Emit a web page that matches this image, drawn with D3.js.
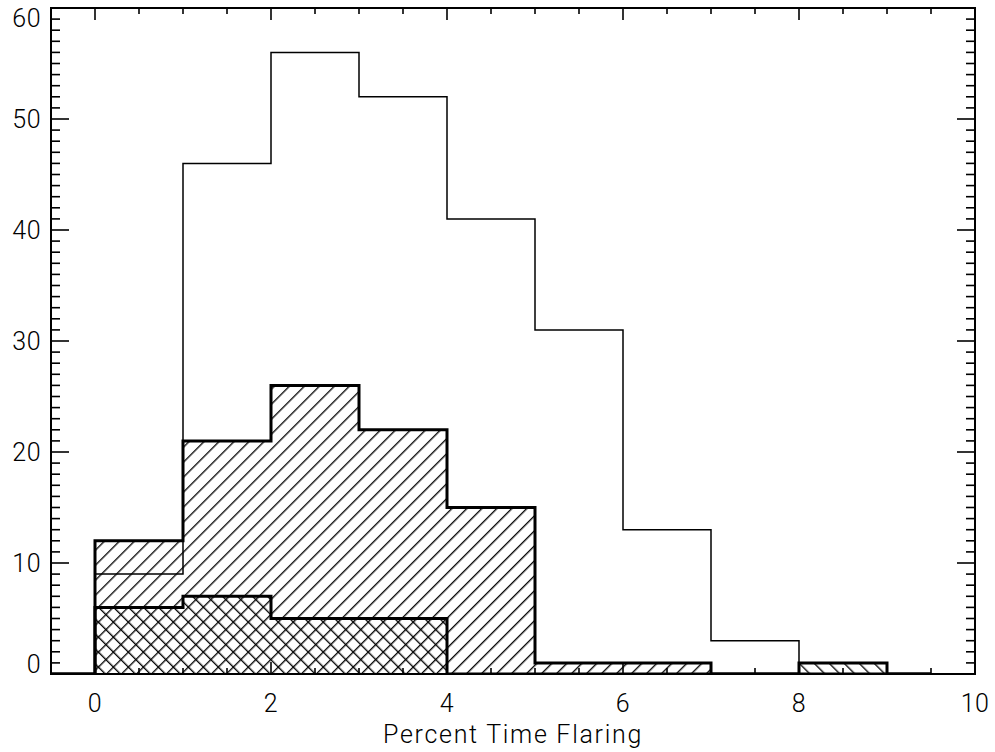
<!DOCTYPE html>
<html>
<head>
<meta charset="utf-8">
<script src="https://cdn.jsdelivr.net/npm/d3@7"></script>
<style>
  body { margin: 0; background: #fff; }
  svg { display: block; }
  text { font-family: Roboto, 'DejaVu Sans', sans-serif; font-weight: 300; fill: #000; }
</style>
</head>
<body>
<svg id="chart" width="995" height="752"></svg>
<script>
// bin centres (IDL psym=10 style histogram), one bin per percent
var binCenters = [-0.5, 0.5, 1.5, 2.5, 3.5, 4.5, 5.5, 6.5, 7.5, 8.5, 9.5];
var allCounts = [0, 9, 46, 56, 52, 41, 31, 13, 3, 0, 0];
var hatchCounts = [0, 12, 21, 26, 22, 15, 1, 1, 0, 0, 0];
var crossCounts = [0, 6, 7, 5, 5, 0, 0, 0, 0, 1, 0];
var xTicks = [0, 2, 4, 6, 8, 10];
var yTicks = [0, 10, 20, 30, 40, 50, 60];
var xTitle = 'Percent Time Flaring';

var svg = d3.select('#chart');
// note: "top" is taken by window.top, so use a box object
var box = { left: 51, right: 975, top: 8, bottom: 674 };

var x = d3.scaleLinear().domain([-0.5, 10]).range([box.left, box.right]);
var y = d3.scaleLinear().domain([0, 60]).range([box.bottom, box.top]);

var defs = svg.append('defs');
defs.append('clipPath').attr('id', 'plotClip')
  .append('rect')
  .attr('x', box.left).attr('y', box.top)
  .attr('width', box.right - box.left).attr('height', box.bottom - box.top);

function hatch(id, angle) {
  var p = defs.append('pattern')
    .attr('id', id)
    .attr('patternUnits', 'userSpaceOnUse')
    .attr('width', 10.6)
    .attr('height', 20)
    .attr('patternTransform', 'rotate(' + angle + ')');
  p.append('line')
    .attr('x1', 0.7).attr('y1', -1)
    .attr('x2', 0.7).attr('y2', 21)
    .attr('stroke', '#000')
    .attr('stroke-width', 1.3);
}
hatch('hatchFwd', 45);
hatch('hatchBack', -45);

var pts = function(counts) {
  return binCenters.map(function(c, i) { return [c, counts[i]]; });
};

var line = d3.line()
  .x(function(d) { return x(d[0]); })
  .y(function(d) { return y(d[1]); })
  .curve(d3.curveStep);

var area = d3.area()
  .x(function(d) { return x(d[0]); })
  .y0(y(0))
  .y1(function(d) { return y(d[1]); })
  .curve(d3.curveStep);

var plot = svg.append('g').attr('clip-path', 'url(#plotClip)');

plot.append('path')
  .attr('d', area(pts(hatchCounts)))
  .attr('fill', 'url(#hatchFwd)');

plot.append('path')
  .attr('d', area(pts(crossCounts)))
  .attr('fill', 'url(#hatchBack)');

plot.append('path')
  .attr('d', line(pts(allCounts)))
  .attr('fill', 'none')
  .attr('stroke', '#000')
  .attr('stroke-width', 1.5);

[hatchCounts, crossCounts].forEach(function(counts) {
  plot.append('path')
    .attr('d', line(pts(counts)))
    .attr('fill', 'none')
    .attr('stroke', '#000')
    .attr('stroke-width', 3);
});

// frame
svg.append('rect')
  .attr('x', box.left).attr('y', box.top)
  .attr('width', box.right - box.left).attr('height', box.bottom - box.top)
  .attr('fill', 'none')
  .attr('stroke', '#000')
  .attr('stroke-width', 2);

// ticks, inward on all four sides
var ticks = svg.append('g').attr('stroke', '#000').attr('stroke-width', 1.6);
d3.range(0, 10.001, 0.5).forEach(function(v) {
  var major = Math.abs(v % 2) < 1e-6;
  var len = major ? 12 : 6;
  ticks.append('line').attr('x1', x(v)).attr('x2', x(v)).attr('y1', box.bottom).attr('y2', box.bottom - len);
  ticks.append('line').attr('x1', x(v)).attr('x2', x(v)).attr('y1', box.top).attr('y2', box.top + len);
});
d3.range(0, 61, 1).forEach(function(v) {
  var major = v % 10 === 0;
  var len = major ? 18 : 9;
  ticks.append('line').attr('y1', y(v)).attr('y2', y(v)).attr('x1', box.left).attr('x2', box.left + len);
  ticks.append('line').attr('y1', y(v)).attr('y2', y(v)).attr('x1', box.right).attr('x2', box.right - len);
});

// labels
svg.append('g').selectAll('text')
  .data(xTicks)
  .enter().append('text')
  .attr('x', function(d) { return x(d); })
  .attr('y', 712)
  .attr('text-anchor', 'middle')
  .attr('font-size', 25)
  .attr('letter-spacing', 0.5)
  .text(function(d) { return d; });

svg.append('g').selectAll('text')
  .data(yTicks)
  .enter().append('text')
  .attr('x', 41)
  .attr('y', function(d, i) {
    var off = 9;
    if (i === 0) off = -1;
    if (i === yTicks.length - 1) off = 19;
    return y(d) + off;
  })
  .attr('text-anchor', 'end')
  .attr('font-size', 25)
  .attr('letter-spacing', 0.5)
  .text(function(d) { return d; });

svg.append('text')
  .attr('x', (box.left + box.right) / 2)
  .attr('y', 743)
  .attr('text-anchor', 'middle')
  .attr('font-size', 25)
  .attr('letter-spacing', 1.7)
  .text(xTitle);
</script>
</body>
</html>
